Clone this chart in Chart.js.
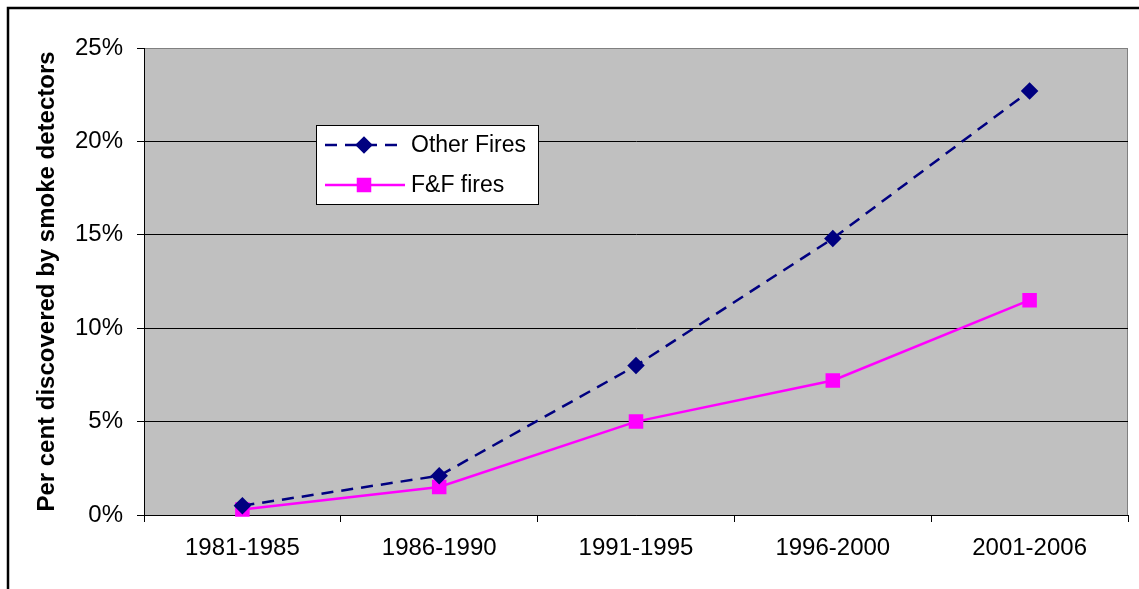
<!DOCTYPE html>
<html>
<head>
  <title>Smoke detectors</title>
  <script src="https://cdn.jsdelivr.net/npm/chart.js"></script>
  <style>
    body { margin: 0; background: #fff; }
    #wrap { width: 1139px; height: 589px; }
  </style>
</head>
<body>
  <div id="wrap">
    <canvas id="chart" width="1139" height="589"></canvas>
  </div>

  <script>
    // data (percent)
    var periods = ['1981-1985', '1986-1990', '1991-1995', '1996-2000', '2001-2006'];
    var otherFires = [0.5, 2.1, 8.0, 14.8, 22.7];
    var ffFires = [0.3, 1.5, 5.0, 7.2, 11.5];
    var yTicks = [0, 5, 10, 15, 20, 25];

    var FONT = 'Liberation Sans, Arial, sans-serif';

    // grey plot background, frame and outer border
    var backdrop = {
      id: 'backdrop',
      beforeDraw: function (chart) {
        var c = chart.ctx, a = chart.chartArea;
        c.save();
        c.fillStyle = '#fff';
        c.fillRect(0, 0, chart.width, chart.height);
        c.strokeStyle = '#000';
        c.lineWidth = 2.5;
        c.strokeRect(8, 8, chart.width + 20, chart.height + 20);
        c.fillStyle = '#c0c0c0';
        c.fillRect(a.left, a.top, a.right - a.left, a.bottom - a.top);
        c.strokeStyle = '#808080';
        c.lineWidth = 1;
        c.beginPath();
        c.moveTo(a.left, a.top + 0.5);
        c.lineTo(a.right - 0.5, a.top + 0.5);
        c.lineTo(a.right - 0.5, a.bottom);
        c.stroke();
        c.restore();
      }
    };

    // legend box inside the plot
    var boxLegend = {
      id: 'boxLegend',
      afterDraw: function (chart) {
        var c = chart.ctx;
        var x = 316, y = 125, w = 222, h = 79;
        c.save();
        c.fillStyle = '#fff';
        c.fillRect(x, y, w, h);
        c.strokeStyle = '#000';
        c.lineWidth = 1;
        c.strokeRect(x + 0.5, y + 0.5, w, h);
        chart.data.datasets.forEach(function (ds, i) {
          var ly = y + 20 + i * 40;
          c.strokeStyle = ds.borderColor;
          c.lineWidth = ds.borderWidth;
          c.setLineDash(ds.borderDash || []);
          c.beginPath();
          c.moveTo(x + 9, ly);
          c.lineTo(x + 89, ly);
          c.stroke();
          c.setLineDash([]);
          Chart.helpers.drawPoint(c, {
            pointStyle: ds.pointStyle,
            radius: ds.pointRadius,
            borderWidth: 1
          }, x + 48, ly);
          c.fillStyle = ds.pointBackgroundColor;
          c.fill();
          c.fillStyle = '#000';
          c.font = '23px ' + FONT;
          c.textBaseline = 'middle';
          c.fillText(ds.label, x + 95, ly + 1);
        });
        c.restore();
      }
    };

    var config = {
      type: 'line',
      data: {
        labels: periods,
        datasets: [{
          label: 'Other Fires',
          data: otherFires,
          borderColor: '#000080',
          backgroundColor: '#000080',
          pointBackgroundColor: '#000080',
          pointBorderColor: '#000080',
          borderWidth: 2.5,
          borderDash: [12, 8],
          pointStyle: 'rectRot',
          pointRadius: 7,
          tension: 0,
          clip: false
        }, {
          label: 'F&F fires',
          data: ffFires,
          borderColor: '#ff00ff',
          backgroundColor: '#ff00ff',
          pointBackgroundColor: '#ff00ff',
          pointBorderColor: '#ff00ff',
          borderWidth: 2.5,
          pointStyle: 'rect',
          pointRadius: 8.5,
          tension: 0,
          clip: false
        }]
      },
      options: {
        responsive: false,
        animation: false,
        events: [],
        layout: { padding: { top: 48, right: 2, left: 0, bottom: 0 } },
        plugins: {
          legend: { display: false },
          tooltip: { enabled: false }
        },
        scales: {
          x: {
            type: 'category',
            offset: true,
            grid: {
              offset: true,
              drawOnChartArea: false,
              drawTicks: true,
              tickLength: 7,
              color: '#000',
              tickColor: '#000'
            },
            border: { color: '#000', width: 1 },
            ticks: {
              color: '#000',
              font: { family: FONT, size: 24 },
              padding: 12,
              maxRotation: 0,
              autoSkip: false
            },
            afterFit: function (s) {
              s.height = 74;
              s.paddingLeft = 0;
              s.paddingRight = 0;
            }
          },
          y: {
            min: 0,
            max: 25,
            afterBuildTicks: function (s) {
              s.ticks = yTicks.map(function (v) { return { value: v }; });
            },
            grid: {
              color: function (ctx) {
                return ctx.tick && ctx.tick.value === 25 ? '#808080' : '#000';
              },
              tickColor: '#000',
              tickLength: 7,
              lineWidth: 1
            },
            border: { color: '#000', width: 1 },
            ticks: {
              color: '#000',
              font: { family: FONT, size: 24 },
              padding: 14,
              callback: function (v) { return v + '%'; }
            },
            title: {
              display: true,
              text: 'Per cent discovered by smoke detectors',
              color: '#000',
              font: { family: FONT, size: 24, weight: 'bold' },
              padding: { top: 33, bottom: 0 }
            },
            afterFit: function (s) {
              s.width = 144;
              s.paddingTop = 0;
              s.paddingBottom = 0;
            }
          }
        }
      },
      plugins: [backdrop, boxLegend]
    };

    var chart = new Chart(document.getElementById('chart').getContext('2d'), config);
  </script>
</body>
</html>
